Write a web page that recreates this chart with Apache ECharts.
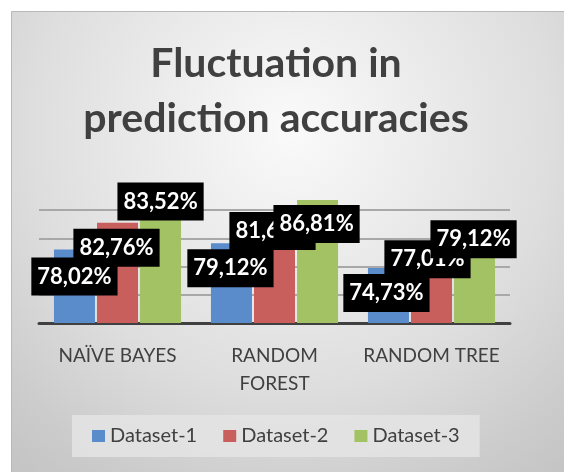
<!DOCTYPE html>
<html>
<head>
<meta charset="utf-8">
<script src="https://cdn.jsdelivr.net/npm/echarts@6/dist/echarts.min.js"></script>
<style>html,body{margin:0;padding:0;background:#fff;}#c{width:564px;height:472px;}</style>
</head>
<body>
<div id="c"></div>
<script>
const categories = ['NAÏVE BAYES', 'RANDOM\nFOREST', 'RANDOM TREE'];
const seriesNames = ['Dataset-1', 'Dataset-2', 'Dataset-3'];
const dataset1 = [78.02, 79.12, 74.73];
const dataset2 = [82.76, 81.68, 77.01];
const dataset3 = [83.52, 86.81, 79.12];
const yTicks = [65, 70, 75, 80, 85, 90];

// label placement (layout only): offset of label centre from bar-top centre
const labelOffsets = [
  [[0, 27], [-1, 25], [-2, 25]],
  [[-1, 25], [-2, 2], [-4, 4]],
  [[0, -17], [-1, 24], [-1, -4]]
];
const colors = ['#5a8bca', '#c95f5c', '#a3c264'];
const FONT = 'Lato';

const chart = echarts.init(document.getElementById('c'), null, {renderer: 'canvas'});
const all = [dataset1, dataset2, dataset3];

const series = all.map((vals, s) => ({
  name: seriesNames[s],
  type: 'bar',
  barWidth: 41,
  barGap: '5%',
  itemStyle: {color: colors[s]},
  label: {
    show: true,
    position: ['50%', 0],
    align: 'center',
    verticalAlign: 'middle',
    formatter: p => p.value.toFixed(2).replace('.', ',') + '%',
    color: '#fff',
    fontFamily: FONT,
    fontWeight: 'bold',
    fontSize: 22,
    backgroundColor: '#000',
    lineHeight: 26,
    padding: [6, 6]
  },
  data: vals.map((v, i) => ({value: v, label: {offset: labelOffsets[s][i]}}))
}));

chart.setOption({
  backgroundColor: '#fff',
  animation: false,
  graphic: [{
    type: 'rect',
    z: -10,
    shape: {x: 11.5, y: 11.5, width: 560, height: 470},
    style: {
      fill: new echarts.graphic.RadialGradient(0.5, 0.25, 1, [
        {offset: 0, color: '#fafafa'},
        {offset: 0.55, color: '#dedede'},
        {offset: 0.8, color: '#cccccc'},
        {offset: 1, color: '#c0c0c0'}
      ]),
      stroke: '#b8b8b8',
      lineWidth: 1
    },
    silent: true
  }],
  title: {
    text: 'Fluctuation in\nprediction accuracies',
    left: 271,
    textAlign: 'center',
    top: 31,
    textStyle: {
      fontFamily: FONT,
      fontWeight: 'bold',
      fontSize: 41,
      lineHeight: 55,
      color: '#404040'
    }
  },
  legend: {
    data: seriesNames,
    left: 72,
    top: 415,
    icon: 'rect',
    itemWidth: 13,
    itemHeight: 12,
    itemGap: 26,
    padding: [11, 20],
    backgroundColor: 'rgba(228,228,228,0.85)',
    textStyle: {fontFamily: FONT, fontSize: 20, color: '#404040'}
  },
  grid: {left: 39, right: 54, top: 182, bottom: 149},
  xAxis: {
    type: 'category',
    data: categories,
    axisLine: {lineStyle: {color: '#404040', width: 3}},
    axisTick: {show: false},
    axisLabel: {
      fontFamily: FONT,
      fontSize: 19,
      color: '#404040',
      margin: 19,
      lineHeight: 28,
      interval: 0
    }
  },
  yAxis: {
    type: 'value',
    min: yTicks[0],
    max: yTicks[yTicks.length - 1],
    interval: yTicks[1] - yTicks[0],
    axisLabel: {show: false},
    axisLine: {show: false},
    axisTick: {show: false},
    splitLine: {
      showMaxLine: false,
      lineStyle: {color: '#a8a8a8', width: 2}
    }
  },
  series: series
});
</script>
</body>
</html>
